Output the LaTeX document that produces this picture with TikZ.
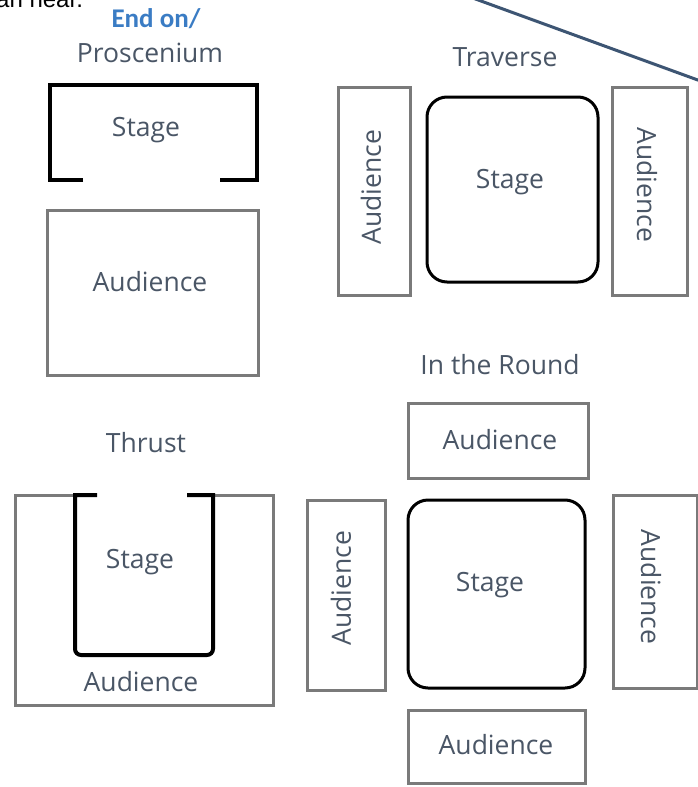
\documentclass[tikz,border=0pt]{standalone}
\usepackage{fontspec}
\setmainfont{Open Sans}
\newfontfamily\calib{Carlito}
\newfontfamily\arialf{Liberation Sans}
\definecolor{lblcol}{HTML}{4A5666}
\definecolor{audgray}{HTML}{7A7A7A}
\definecolor{endblue}{HTML}{3A7CC4}
\definecolor{linecol}{HTML}{3D5573}
\begin{document}
\begin{tikzpicture}[x=1pt,y=-1pt,
  lab/.style={text=lblcol, font=\fontsize{26.5}{30}\selectfont, inner sep=0pt},
  aud/.style={draw=audgray, line width=3pt, rectangle, inner sep=0pt},
  stg/.style={draw=black, line width=3pt, rectangle, rounded corners=20pt, inner sep=0pt},
  wall/.style={draw=black, line width=4pt},
  grayline/.style={draw=audgray, line width=3pt}]
\useasboundingbox (0,0) rectangle (698,787);
\clip (0,0) rectangle (698,787);
\fill[white] (0,0) rectangle (698,787);

% intro text and pointer line
\node[anchor=base west, font=\arialf\fontsize{24}{28}\selectfont, inner sep=0pt] (intro) at (-4,8) {an near.};
\coordinate (lineA) at (470,-3);
\coordinate (lineB) at (706,83);
\draw[linecol, line width=3pt] (lineA) -- (lineB);

% End on / Proscenium
\node[font=\calib\bfseries\fontsize{27}{30}\selectfont, text=endblue, inner sep=0pt] (endon) at (156,19) {End on/};
\node[lab] (prosT) at (150,53) {Proscenium};
\coordinate (pw1) at (83,180);
\coordinate (pw2) at (50,180);
\coordinate (pw3) at (50,85);
\coordinate (pw4) at (257,85);
\coordinate (pw5) at (257,180);
\coordinate (pw6) at (220,180);
\draw[wall] (pw1) -- (pw2) -- (pw3) -- (pw4) -- (pw5) -- (pw6);
\node[lab] (prosStage) at (146,130) {Stage};
\node[aud, minimum width=211pt, minimum height=165pt] (prosAud) at (152.5,292.5) {};
\node[lab] (prosAudT) at (150,282) {Audience};

% Traverse
\node[lab] (travT) at (505,57) {Traverse};
\node[aud, minimum width=72pt, minimum height=208pt] (travL) at (374,191) {};
\node[lab, rotate=90] (travLT) at (371,187) {Audience};
\node[stg, minimum width=171pt, minimum height=185pt] (travS) at (512.5,189.5) {};
\node[lab] (travST) at (510,182) {Stage};
\node[aud, minimum width=75pt, minimum height=208pt] (travR) at (649.5,191) {};
\node[lab, rotate=-90] (travRT) at (647,185) {Audience};

% Thrust
\node[lab] (thrT) at (146,443) {Thrust};
\coordinate (tg1) at (75,495);
\coordinate (tg2) at (15,495);
\coordinate (tg3) at (15,705);
\coordinate (tg4) at (273,705);
\coordinate (tg5) at (273,495);
\coordinate (tg6) at (213,495);
\draw[grayline] (tg1) -- (tg2) -- (tg3) -- (tg4) -- (tg5) -- (tg6);
\coordinate (tw1) at (97,495);
\coordinate (tw2) at (75,495);
\coordinate (tw3) at (75,655);
\coordinate (tw4) at (213,655);
\coordinate (tw5) at (213,495);
\coordinate (tw6) at (187,495);
\draw[wall] (tw1) -- (tw2) [rounded corners=6pt] -- (tw3) -- (tw4) [sharp corners] -- (tw5) -- (tw6);
\node[lab] (thrStage) at (140,562) {Stage};
\node[lab] (thrAud) at (141,682) {Audience};

% In the Round
\node[lab] (rndT) at (500,365) {In the Round};
\node[aud, minimum width=180pt, minimum height=75pt] (rndTop) at (498,440.5) {};
\node[lab] (rndTopT) at (500,440) {Audience};
\node[stg, minimum width=177pt, minimum height=188pt] (rndS) at (496.5,594) {};
\node[lab] (rndST) at (490,585) {Stage};
\node[aud, minimum width=78pt, minimum height=190pt] (rndL) at (346,595) {};
\node[lab, rotate=90] (rndLT) at (341,588) {Audience};
\node[aud, minimum width=84pt, minimum height=193pt] (rndR) at (655,591.5) {};
\node[lab, rotate=-90] (rndRT) at (651,587) {Audience};
\node[aud, minimum width=177pt, minimum height=73pt] (rndB) at (496.5,746.5) {};
\node[lab] (rndBT) at (496,745) {Audience};
\end{tikzpicture}
\end{document}
